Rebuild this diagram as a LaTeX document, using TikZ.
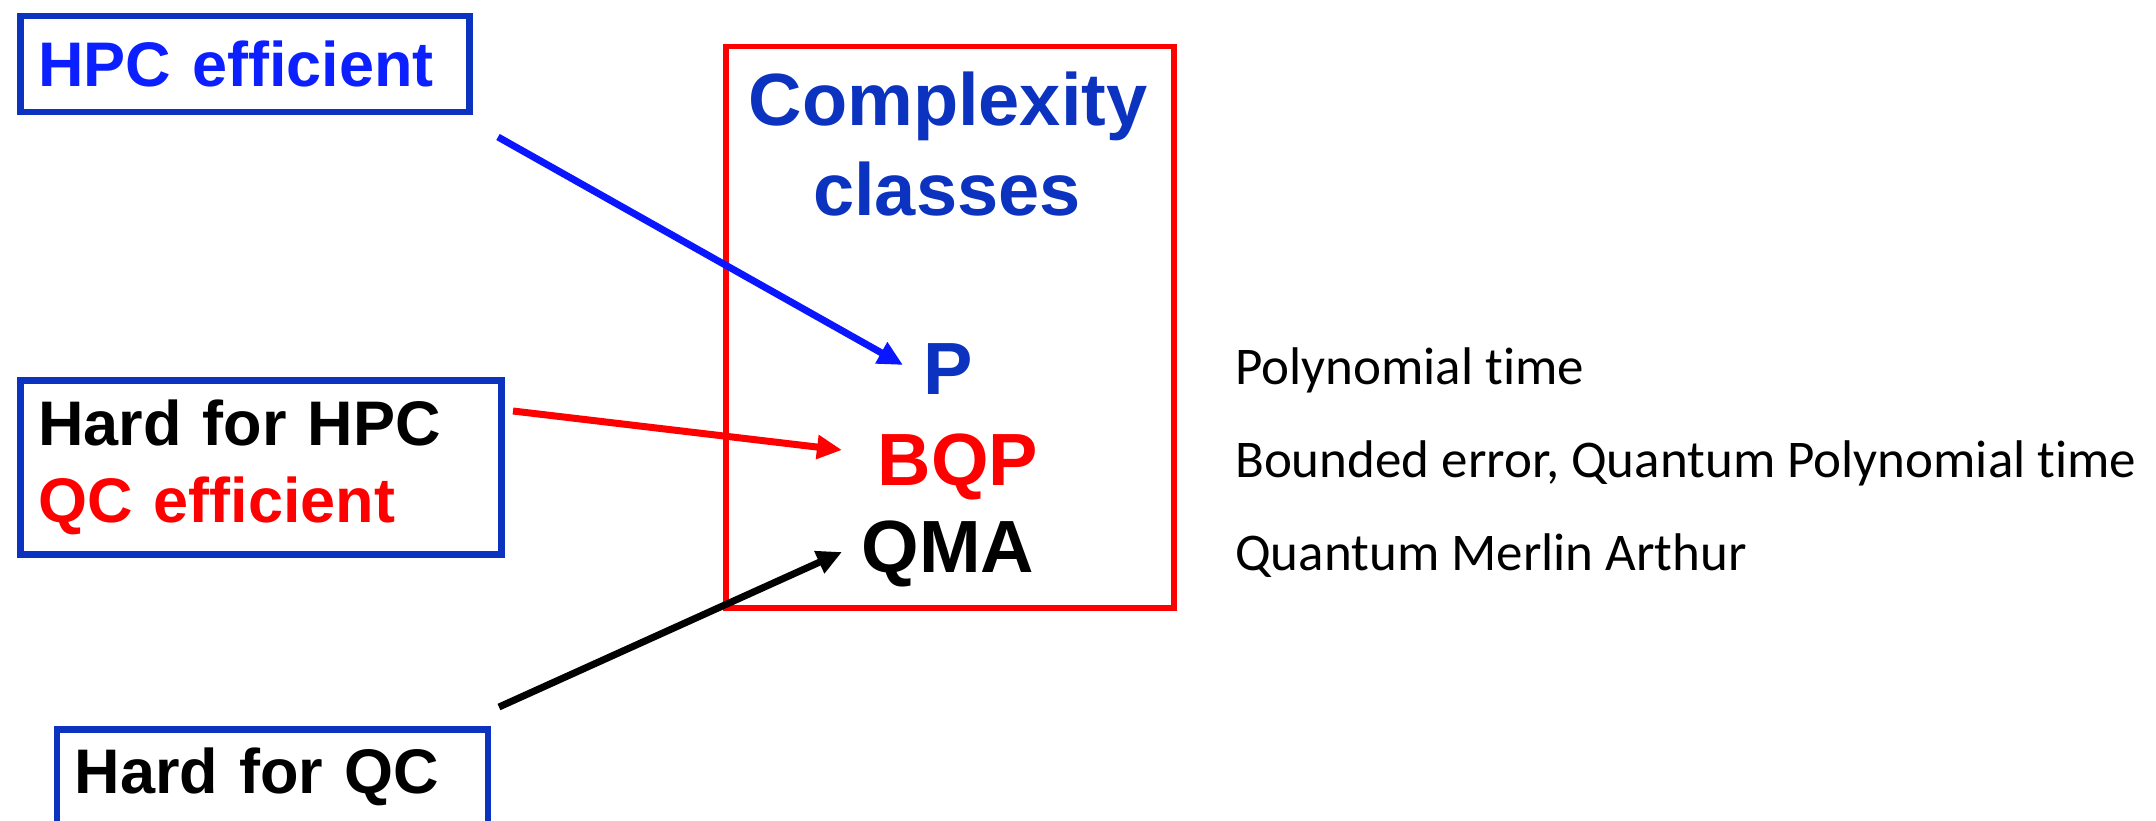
\documentclass[tikz,border=0pt]{standalone}
\usepackage{fontspec}
\setmainfont{Liberation Sans}[Ligatures=NoCommon]
\newfontfamily\calib{Carlito}[Ligatures=NoCommon]
\usetikzlibrary{arrows.meta}
\definecolor{boxblue}{RGB}{11,51,192}
\definecolor{brightblue}{RGB}{12,32,255}
\definecolor{arrowblue}{RGB}{10,22,255}
\definecolor{purered}{RGB}{255,0,0}
\begin{document}
\begin{tikzpicture}[x=1pt,y=-1pt,
  probbox/.style={draw=boxblue, line width=6.5pt, anchor=north west, inner xsep=18pt, inner ysep=0pt, align=left, font=\fontsize{63}{77}\selectfont\bfseries},
  classlbl/.style={anchor=base, inner sep=0pt, font=\fontsize{74}{90}\selectfont\bfseries},
  desc/.style={anchor=base west, inner sep=0pt, font=\calib\fontsize{53}{64}\selectfont},
  conn/.style={line width=7pt, -{Triangle[length=25pt,width=23pt]}}
]
\useasboundingbox (0,0) rectangle (2156,821);
\clip (0,0) rectangle (2156,821);

% left boxes
\node[probbox, minimum width=449pt, minimum height=96pt, text width=413pt, text=brightblue] (hpc) at (17,13) {HPC efficient};
\node[probbox, minimum width=481pt, minimum height=174pt, text width=445pt] (hardhpc) at (17,377) {Hard for HPC\\\textcolor{purered}{QC efficient}};
\node[probbox, minimum width=431pt, minimum height=96pt, text width=395pt] (hardqc) at (53.5,726) {Hard for QC};

% complexity classes box
\node[draw=purered, line width=5.5pt, anchor=north west, minimum width=448pt, minimum height=561pt, inner sep=0pt] (ccbox) at (723,44) {};
\node[classlbl, text=boxblue] (t1) at (948,126) {Complexity};
\node[classlbl, text=boxblue] (t2) at (947,216) {classes};
\node[classlbl, text=boxblue] (P) at (948,394) {P};
\node[classlbl, text=purered] (BQP) at (958,485) {BQP};
\node[classlbl, text=black] (QMA) at (948,572) {QMA};

% descriptions
\node[desc] (dP) at (1235,384) {Polynomial time};
\node[desc] (dBQP) at (1235,477) {Bounded error, Quantum Polynomial time};
\node[desc] (dQMA) at (1235,570) {Quantum Merlin Arthur};

% arrow endpoints
\coordinate (s1) at (498,137);
\coordinate (e1) at (903,365);
\coordinate (s2) at (513,411);
\coordinate (e2) at (842,450);
\coordinate (s3) at (499,707);
\coordinate (e3) at (842,552);

\draw[conn, arrowblue] (s1) -- (e1);
\draw[conn, purered] (s2) -- (e2);
\draw[conn, black] (s3) -- (e3);
\end{tikzpicture}
\end{document}
